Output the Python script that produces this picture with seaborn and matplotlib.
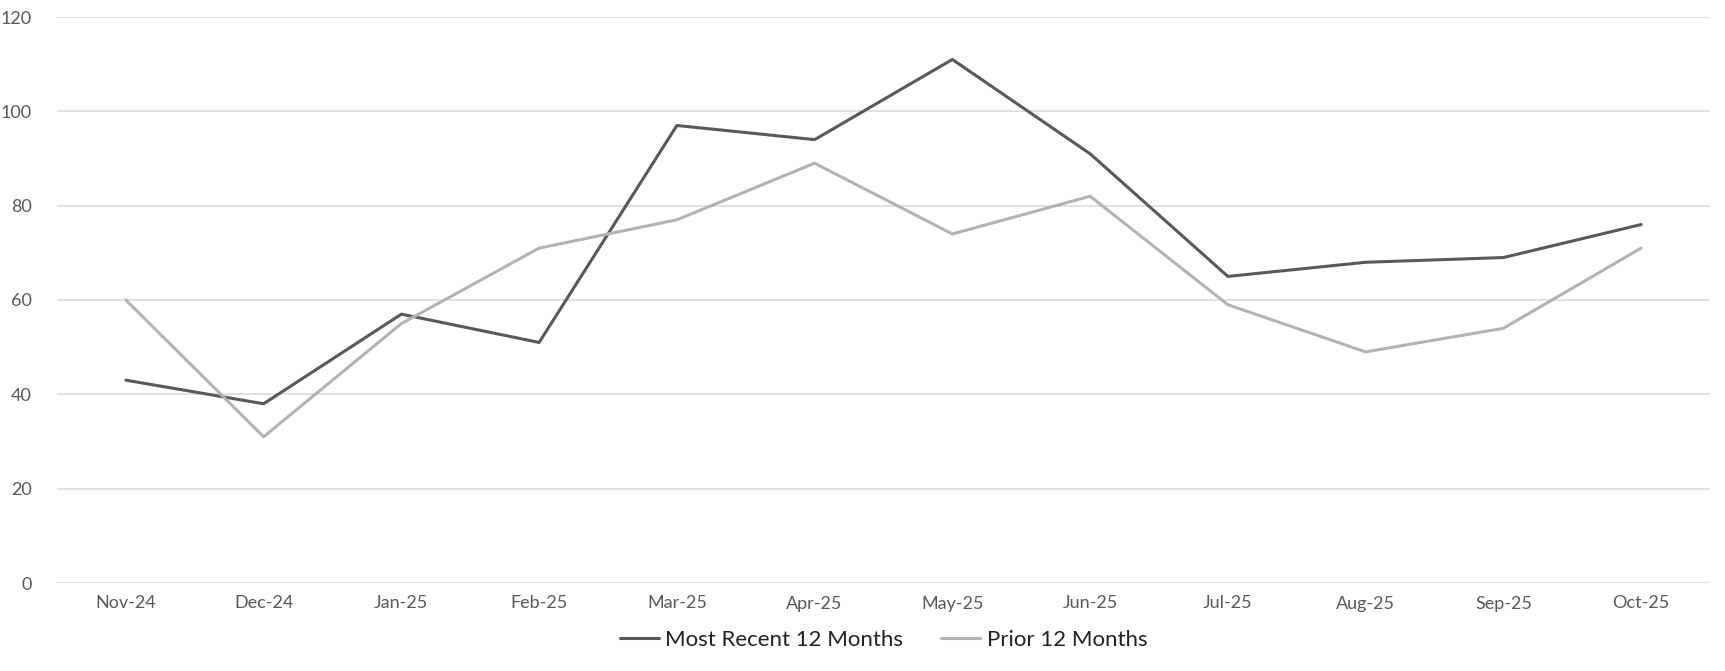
import pandas as pd
import matplotlib.pyplot as plt
import seaborn as sns

# data
months = ["Nov-24", "Dec-24", "Jan-25", "Feb-25", "Mar-25", "Apr-25",
          "May-25", "Jun-25", "Jul-25", "Aug-25", "Sep-25", "Oct-25"]
recent = [43, 38, 57, 51, 97, 94, 111, 91, 65, 68, 69, 76]
prior = [60, 31, 55, 71, 77, 89, 74, 82, 59, 49, 54, 71]
series_names = ["Most Recent 12 Months", "Prior 12 Months"]

df = pd.DataFrame({
    "Month": months * 2,
    "Value": recent + prior,
    "Series": [series_names[0]] * 12 + [series_names[1]] * 12,
})

sns.set_style("white")
plt.rcParams["font.family"] = ["Lato", "DejaVu Sans"]

fig = plt.figure(figsize=(17.25, 6.71), dpi=100)
ax = fig.add_axes([57 / 1725, 1 - 583 / 671, (1710 - 57) / 1725, (583 - 17) / 671])

sns.lineplot(data=df, x="Month", y="Value", hue="Series", sort=False,
             palette=["#595959", "#b3b3b3"], linewidth=2.2, ax=ax)

ax.set_xlim(-0.5, 11.5)
ax.set_ylim(0, 120)
ax.set_yticks(range(0, 121, 20))
ax.yaxis.grid(True, color="#d9d9d9", linewidth=1.1)
ax.set_axisbelow(True)
for s in ax.spines.values():
    s.set_visible(False)
ax.tick_params(axis="both", length=0, labelsize=13, colors="#595959")
ax.tick_params(axis="y", pad=18)
ax.tick_params(axis="x", pad=9)
ax.set_xlabel("")
ax.set_ylabel("")

ax.legend(loc="center", bbox_to_anchor=(0.5, -0.1), ncol=2, frameon=False,
          fontsize=16, handlelength=1.75, handletextpad=0.3, columnspacing=1.7,
          labelcolor="#222222")

fig.savefig("out.png", dpi=100)
